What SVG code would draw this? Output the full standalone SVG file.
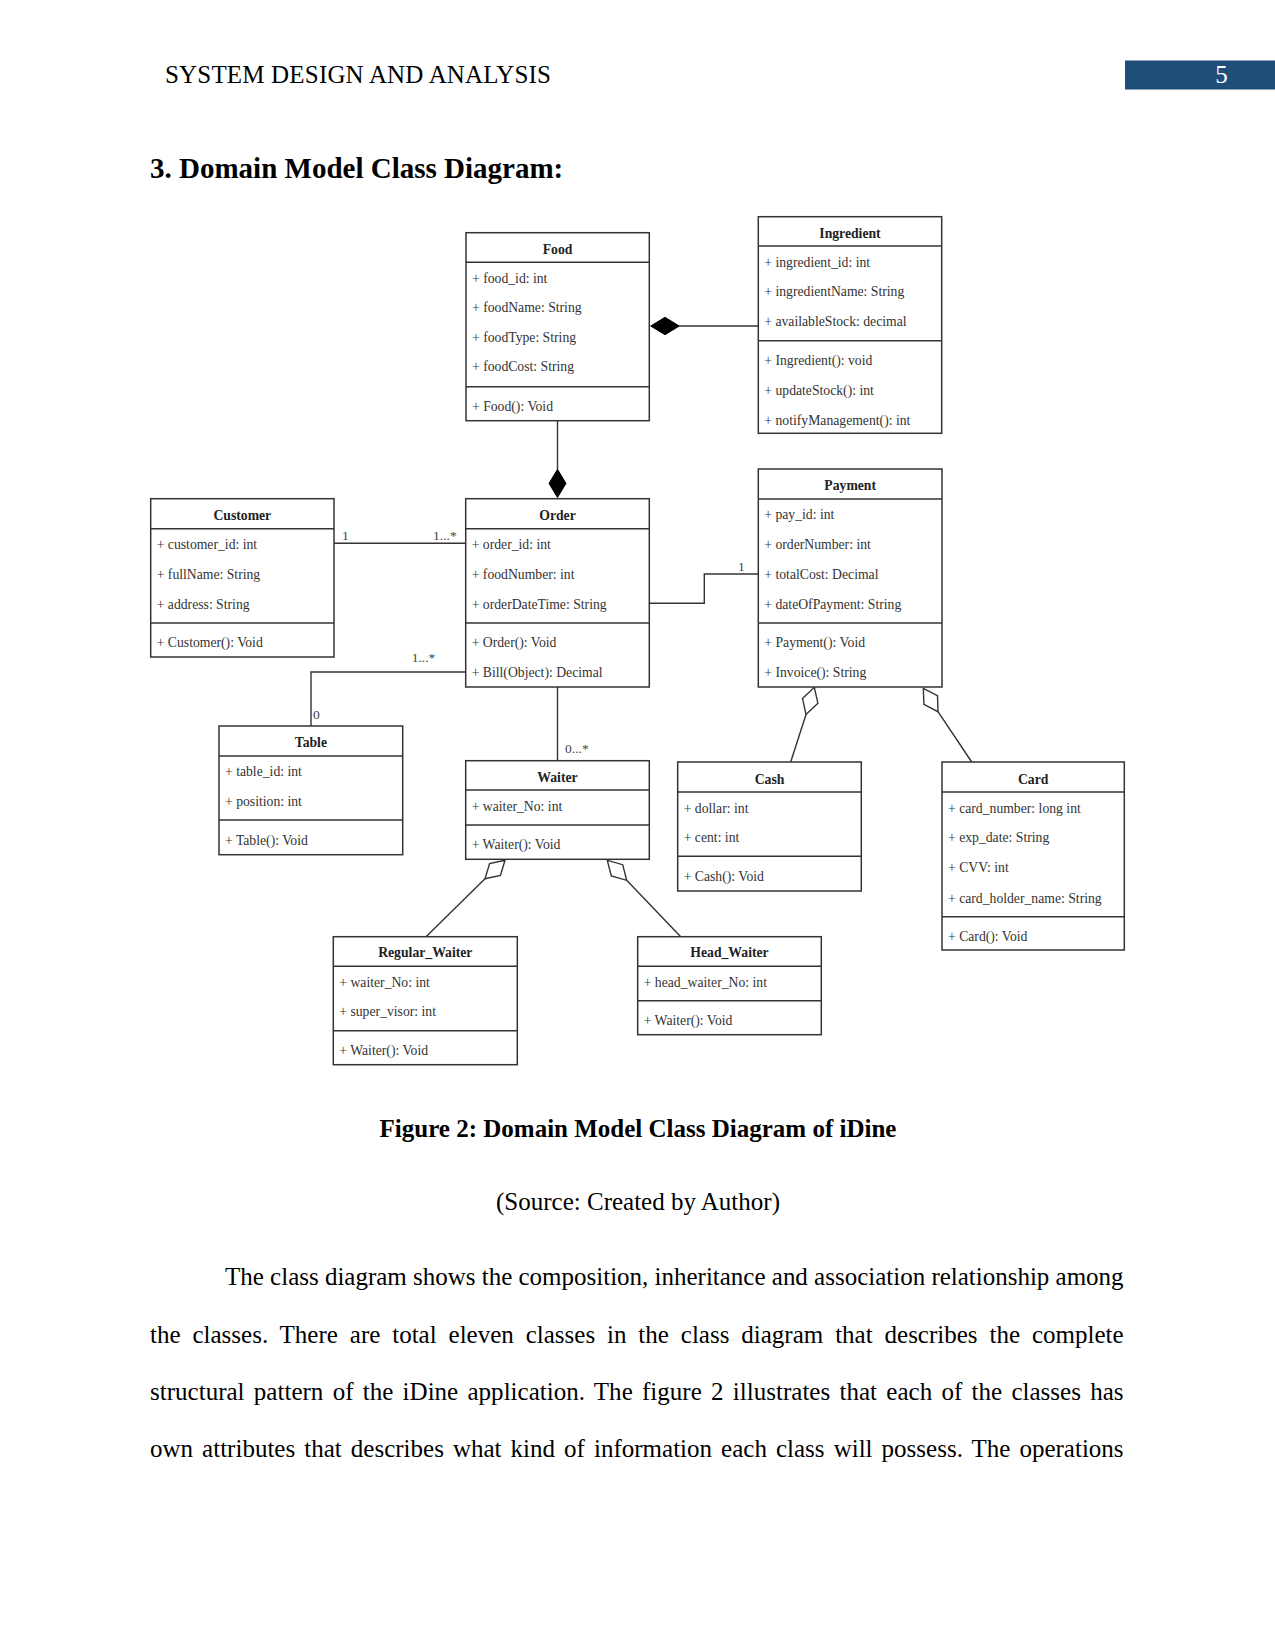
<svg xmlns="http://www.w3.org/2000/svg" width="1275" height="1650" viewBox="0 0 1275 1650">
<style>
.pg{font-family:"Liberation Serif","Times New Roman",serif;fill:#000}
.box{fill:#fff;stroke:#333;stroke-width:1.5}
.sep{stroke:#333;stroke-width:1.5}
.t{font-family:"Liberation Serif","Times New Roman",serif;font-size:13.7px;font-weight:bold;text-anchor:middle;fill:#222}
.a{font-family:"Liberation Serif","Times New Roman",serif;font-size:13.7px;fill:#333}
.ln{fill:none;stroke:#333;stroke-width:1.4}
.fd{fill:#000;stroke:#000;stroke-width:1}
.hd{fill:#fff;stroke:#333;stroke-width:1.4}
.lb{font-family:"Liberation Serif","Times New Roman",serif;font-size:13.5px;fill:#444}
</style>
<rect width="1275" height="1650" fill="#fff"/>
<g id="page-header">
<text class="pg" x="165" y="83" font-size="25" textLength="386" lengthAdjust="spacing">SYSTEM DESIGN AND ANALYSIS</text>
<rect x="1125" y="60.5" width="150" height="29" fill="#1F4E79"/>
<text class="pg" x="1221.5" y="82.5" font-size="25" text-anchor="middle" style="fill:#fff">5</text>
</g>
<text class="pg" x="150" y="178" font-size="29" font-weight="bold">3. Domain Model Class Diagram:</text>

<g id="connectors">
<line class="ln" x1="557.5" y1="420.7" x2="557.5" y2="469.3"/>
<polygon class="fd" points="557.5,469.3 566,483.4 557.5,497.5 549,483.4"/>
<line class="ln" x1="679.3" y1="326" x2="758.3" y2="326"/>
<polygon class="fd" points="650.7,326 665,317.3 679.3,326 665,334.7"/>
<line class="ln" x1="334" y1="543.3" x2="465.7" y2="543.3"/>
<text class="lb" x="342" y="539.5">1</text>
<text class="lb" x="433" y="539.5">1...*</text>
<polyline class="ln" points="465.7,672 311,672 311,726"/>
<text class="lb" x="411.7" y="661.5">1...*</text>
<text class="lb" x="313" y="718.5">0</text>
<line class="ln" x1="557.5" y1="687" x2="557.5" y2="760.7"/>
<text class="lb" x="565" y="752.8">0...*</text>
<polyline class="ln" points="649.3,603.3 704.3,603.3 704.3,574 758.3,574"/>
<text class="lb" x="738" y="571">1</text>
<line class="ln" x1="806" y1="714.5" x2="790.7" y2="762"/>
<polygon class="hd" points="814.3,687.3 817.9,703.2 806,714.5 802.5,698.6"/>
<line class="ln" x1="938" y1="711.7" x2="971.7" y2="762"/>
<polygon class="hd" points="923.3,688.3 937.5,695.7 938,711.7 923.9,704.3"/>
<line class="ln" x1="485" y1="878.7" x2="426" y2="936.7"/>
<polygon class="hd" points="505,860.3 500.4,875.4 485,878.7 489.6,863.6"/>
<line class="ln" x1="626.7" y1="880.3" x2="680.7" y2="936.7"/>
<polygon class="hd" points="607.3,860.3 622.7,864.7 626.7,880.3 611.3,875.9"/>
</g>

<g id="Food">
<rect class="box" x="466" y="232.7" width="183.3" height="188"/>
<line class="sep" x1="466" y1="262.3" x2="649.3" y2="262.3"/>
<line class="sep" x1="466" y1="386.7" x2="649.3" y2="386.7"/>
<text class="t" x="557.6" y="253.5">Food</text>
<text class="a" x="472" y="282.8">+ food_id: int</text>
<text class="a" x="472" y="312.2">+ foodName: String</text>
<text class="a" x="472" y="341.8">+ foodType: String</text>
<text class="a" x="472" y="371.2">+ foodCost: String</text>
<text class="a" x="472" y="410.5">+ Food(): Void</text>
</g>

<g id="Ingredient">
<rect class="box" x="758.3" y="216.7" width="183.4" height="216.6"/>
<line class="sep" x1="758.3" y1="246" x2="941.7" y2="246"/>
<line class="sep" x1="758.3" y1="340.7" x2="941.7" y2="340.7"/>
<text class="t" x="850" y="237.8">Ingredient</text>
<text class="a" x="764.3" y="266.8">+ ingredient_id: int</text>
<text class="a" x="764.3" y="296.2">+ ingredientName: String</text>
<text class="a" x="764.3" y="326.2">+ availableStock: decimal</text>
<text class="a" x="764.3" y="365.2">+ Ingredient(): void</text>
<text class="a" x="764.3" y="395.2">+ updateStock(): int</text>
<text class="a" x="764.3" y="425.2">+ notifyManagement(): int</text>
</g>

<g id="Customer">
<rect class="box" x="150.7" y="498.7" width="183.3" height="158.3"/>
<line class="sep" x1="150.7" y1="528.7" x2="334" y2="528.7"/>
<line class="sep" x1="150.7" y1="623" x2="334" y2="623"/>
<text class="t" x="242.3" y="519.5">Customer</text>
<text class="a" x="156.7" y="548.5">+ customer_id: int</text>
<text class="a" x="156.7" y="578.5">+ fullName: String</text>
<text class="a" x="156.7" y="608.5">+ address: String</text>
<text class="a" x="156.7" y="647.2">+ Customer(): Void</text>
</g>

<g id="Order">
<rect class="box" x="465.7" y="498.7" width="183.6" height="188.3"/>
<line class="sep" x1="465.7" y1="528.7" x2="649.3" y2="528.7"/>
<line class="sep" x1="465.7" y1="623" x2="649.3" y2="623"/>
<text class="t" x="557.5" y="519.5">Order</text>
<text class="a" x="471.7" y="548.5">+ order_id: int</text>
<text class="a" x="471.7" y="578.5">+ foodNumber: int</text>
<text class="a" x="471.7" y="608.5">+ orderDateTime: String</text>
<text class="a" x="471.7" y="647.2">+ Order(): Void</text>
<text class="a" x="471.7" y="676.5">+ Bill(Object): Decimal</text>
</g>

<g id="Payment">
<rect class="box" x="758.3" y="469" width="183.7" height="218"/>
<line class="sep" x1="758.3" y1="499" x2="942" y2="499"/>
<line class="sep" x1="758.3" y1="623" x2="942" y2="623"/>
<text class="t" x="850.2" y="490.2">Payment</text>
<text class="a" x="764.3" y="518.8">+ pay_id: int</text>
<text class="a" x="764.3" y="548.5">+ orderNumber: int</text>
<text class="a" x="764.3" y="578.5">+ totalCost: Decimal</text>
<text class="a" x="764.3" y="608.5">+ dateOfPayment: String</text>
<text class="a" x="764.3" y="647.2">+ Payment(): Void</text>
<text class="a" x="764.3" y="676.8">+ Invoice(): String</text>
</g>

<g id="Table">
<rect class="box" x="219" y="726" width="183.7" height="128.7"/>
<line class="sep" x1="219" y1="756" x2="402.7" y2="756"/>
<line class="sep" x1="219" y1="820" x2="402.7" y2="820"/>
<text class="t" x="310.9" y="747.2">Table</text>
<text class="a" x="225" y="775.5">+ table_id: int</text>
<text class="a" x="225" y="805.5">+ position: int</text>
<text class="a" x="225" y="844.5">+ Table(): Void</text>
</g>

<g id="Waiter">
<rect class="box" x="465.7" y="760.7" width="183.6" height="98.6"/>
<line class="sep" x1="465.7" y1="790" x2="649.3" y2="790"/>
<line class="sep" x1="465.7" y1="825" x2="649.3" y2="825"/>
<text class="t" x="557.5" y="781.8">Waiter</text>
<text class="a" x="471.7" y="810.5">+ waiter_No: int</text>
<text class="a" x="471.7" y="849.2">+ Waiter(): Void</text>
</g>

<g id="Cash">
<rect class="box" x="677.7" y="762" width="183.6" height="129"/>
<line class="sep" x1="677.7" y1="792" x2="861.3" y2="792"/>
<line class="sep" x1="677.7" y1="856.3" x2="861.3" y2="856.3"/>
<text class="t" x="769.5" y="783.8">Cash</text>
<text class="a" x="683.7" y="812.8">+ dollar: int</text>
<text class="a" x="683.7" y="842.2">+ cent: int</text>
<text class="a" x="683.7" y="881.2">+ Cash(): Void</text>
</g>

<g id="Card">
<rect class="box" x="942" y="762" width="182.3" height="188"/>
<line class="sep" x1="942" y1="792" x2="1124.3" y2="792"/>
<line class="sep" x1="942" y1="916.7" x2="1124.3" y2="916.7"/>
<text class="t" x="1033.2" y="783.8">Card</text>
<text class="a" x="948" y="812.8">+ card_number: long int</text>
<text class="a" x="948" y="842.2">+ exp_date: String</text>
<text class="a" x="948" y="872.2">+ CVV: int</text>
<text class="a" x="948" y="902.5">+ card_holder_name: String</text>
<text class="a" x="948" y="941.2">+ Card(): Void</text>
</g>

<g id="Regular_Waiter">
<rect class="box" x="333.3" y="936.7" width="184" height="128"/>
<line class="sep" x1="333.3" y1="966.3" x2="517.3" y2="966.3"/>
<line class="sep" x1="333.3" y1="1030.7" x2="517.3" y2="1030.7"/>
<text class="t" x="425.3" y="957.2">Regular_Waiter</text>
<text class="a" x="339.3" y="986.5">+ waiter_No: int</text>
<text class="a" x="339.3" y="1016.2">+ super_visor: int</text>
<text class="a" x="339.3" y="1054.5">+ Waiter(): Void</text>
</g>

<g id="Head_Waiter">
<rect class="box" x="637.7" y="936.7" width="183.6" height="98"/>
<line class="sep" x1="637.7" y1="966.3" x2="821.3" y2="966.3"/>
<line class="sep" x1="637.7" y1="1000.7" x2="821.3" y2="1000.7"/>
<text class="t" x="729.5" y="957.2">Head_Waiter</text>
<text class="a" x="643.7" y="986.5">+ head_waiter_No: int</text>
<text class="a" x="643.7" y="1025.2">+ Waiter(): Void</text>
</g>

<g id="caption">
<text class="pg" x="638" y="1137" font-size="25" font-weight="bold" text-anchor="middle">Figure 2: Domain Model Class Diagram of iDine</text>
<text class="pg" x="638" y="1210" font-size="25" text-anchor="middle">(Source: Created by Author)</text>
</g>
<g id="body-text" class="pg" font-size="25">
<text x="225" y="1285" textLength="898.6" lengthAdjust="spacing">The class diagram shows the composition, inheritance and association relationship among</text>
<text x="150" y="1342.5" word-spacing="5.6" textLength="973.6" lengthAdjust="spacing">the classes. There are total eleven classes in the class diagram that describes the complete</text>
<text x="150" y="1400" word-spacing="3" textLength="973.6" lengthAdjust="spacing">structural pattern of the iDine application. The figure 2 illustrates that each of the classes has</text>
<text x="150" y="1457" word-spacing="2.8" textLength="973.6" lengthAdjust="spacing">own attributes that describes what kind of information each class will possess. The operations</text>
</g>
</svg>
